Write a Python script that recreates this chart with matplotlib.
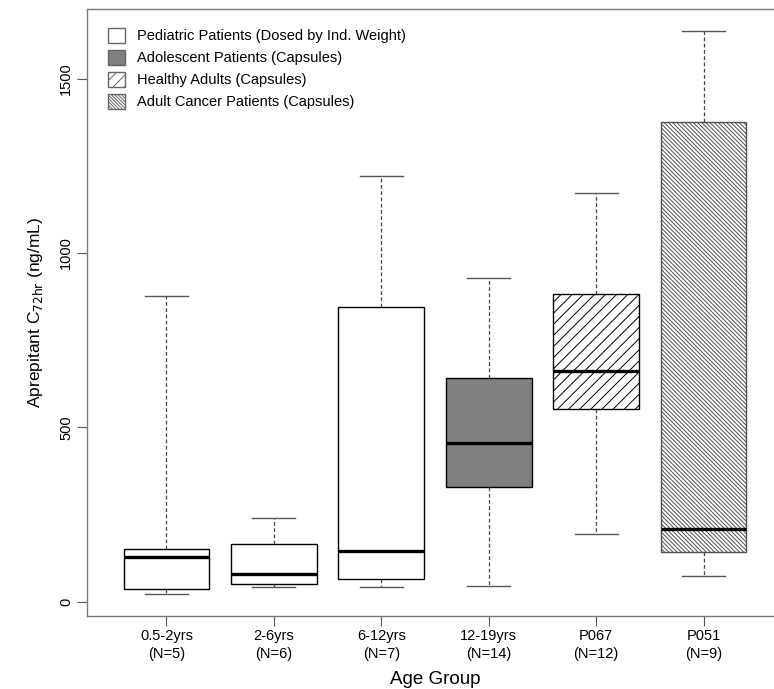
import matplotlib
matplotlib.use("Agg")
import matplotlib.pyplot as plt
from matplotlib.patches import Patch

plt.rcParams['font.family'] = ['Liberation Sans', 'DejaVu Sans']
plt.rcParams['hatch.linewidth'] = 0.7

groups = ["0.5-2yrs", "2-6yrs", "6-12yrs", "12-19yrs", "P067", "P051"]
counts = [5, 6, 7, 14, 12, 9]
whislo = [23, 43, 44, 46, 195, 75]
q1 = [37, 51, 65, 330, 553, 143]
med = [128, 79, 145, 455, 662, 209]
q3 = [152, 165, 846, 641, 884, 1376]
whishi = [877, 240, 1220, 929, 1173, 1637]
fills = ["white", "white", "white", "#808080", "white", "white"]
hatches = [None, None, None, None, "///", "\\" * 8]
legend_labels = ["Pediatric Patients (Dosed by Ind. Weight)",
                 "Adolescent Patients (Capsules)",
                 "Healthy Adults (Capsules)",
                 "Adult Cancer Patients (Capsules)"]
legend_fill = ["white", "#808080", "white", "white"]
legend_hatch = [None, None, "///", "\\" * 10]

stats = []
for i in range(len(groups)):
    stats.append(dict(label="%s\n(N=%d)" % (groups[i], counts[i]),
                      whislo=whislo[i], q1=q1[i], med=med[i], q3=q3[i], whishi=whishi[i]))

fig = plt.figure(figsize=(7.74, 6.89), dpi=100)
ax = fig.add_axes([87/774, 73.5/689, 696/774, 607/689])

bp = ax.bxp(stats, positions=range(1, 7), widths=0.8, patch_artist=True, showfliers=False,
            boxprops=dict(edgecolor="black", linewidth=1.0),
            medianprops=dict(color="black", linewidth=2.4, solid_capstyle="butt"),
            whiskerprops=dict(color="#444444", linewidth=0.9, linestyle=(0, (3, 2))),
            capprops=dict(color="#555555", linewidth=1.0),
            capwidths=0.4)
for box, fc, h in zip(bp['boxes'], fills, hatches):
    box.set_facecolor(fc)
    if h:
        box.set_hatch(h)
# denser hatch drawn in grey like the reference
bp['boxes'][5].set_edgecolor("#505050")

ax.set_xlim(0.26, 6.74)
ax.set_ylim(-39, 1701)
ax.set_yticks([0, 500, 1000, 1500])
for lab in ax.get_yticklabels():
    lab.set_rotation(90)
    lab.set_va("center")
ax.tick_params(axis='y', labelsize=10.5, length=7, width=0.8, color="#555555", pad=3)
ax.tick_params(axis='x', labelsize=10.5, length=7, width=0.8, color="#555555", pad=3)
for lab in ax.get_xticklabels():
    lab.set_linespacing(1.35)
for s in ax.spines.values():
    s.set_color("#777777")
    s.set_linewidth(1.0)

ax.set_xlabel("Age Group", fontsize=13.5, labelpad=7)
ax.set_ylabel(r"Aprepitant C$_{\mathrm{72hr}}$ (ng/mL)", fontsize=12.5, labelpad=10)

handles = [Patch(facecolor=fc, edgecolor="#666666", hatch=h, linewidth=1.0)
           for fc, h in zip(legend_fill, legend_hatch)]
ax.legend(handles, legend_labels, loc="upper left", bbox_to_anchor=(0.015, 0.985),
          frameon=False, fontsize=10.5, handlelength=1.2, handleheight=1.2,
          handletextpad=0.8, labelspacing=0.45, borderaxespad=0.3)

plt.savefig("out.png", dpi=100)
